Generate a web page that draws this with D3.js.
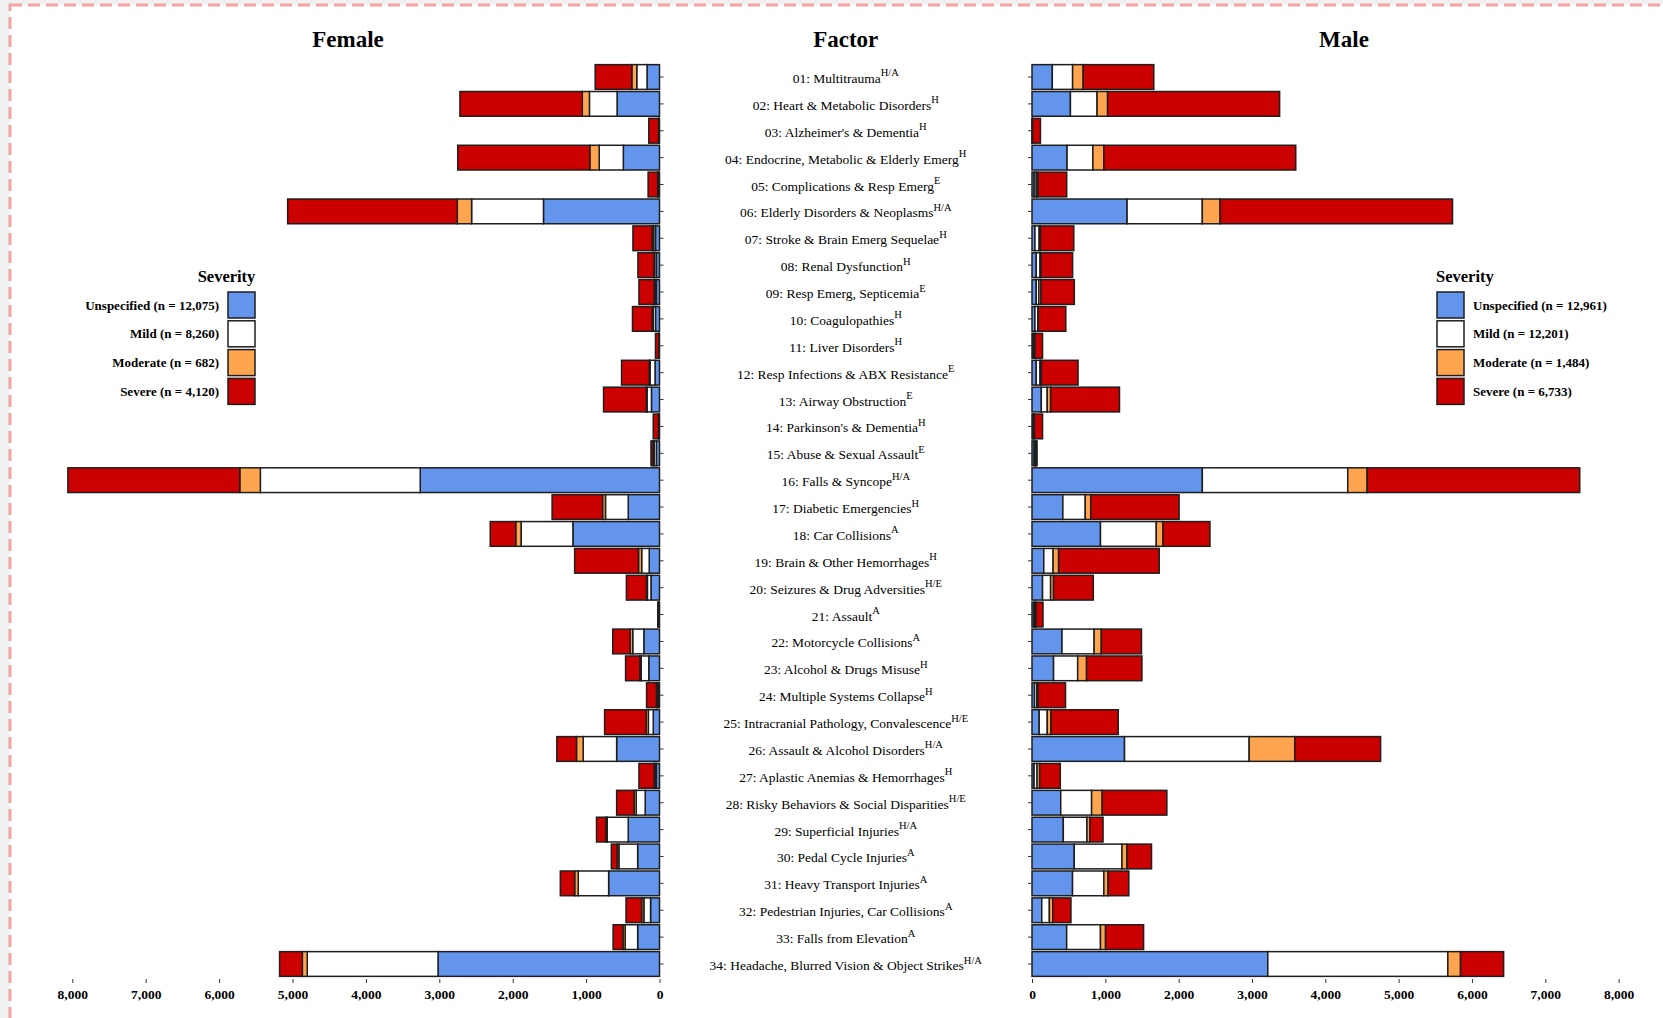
<!DOCTYPE html>
<html>
<head>
<meta charset="utf-8">
<script src="https://cdn.jsdelivr.net/npm/d3@7"></script>
<style>
  body { margin: 0; background: #f1f1f1; overflow: hidden; }
  svg text { font-family: "Liberation Serif", "Times New Roman", serif; }
</style>
</head>
<body>
<div id="chart"></div>
<script>
// factor names + superscript codes
var factors = ["01: Multitrauma", "02: Heart & Metabolic Disorders", "03: Alzheimer's & Dementia",
  "04: Endocrine, Metabolic & Elderly Emerg", "05: Complications & Resp Emerg", "06: Elderly Disorders & Neoplasms",
  "07: Stroke & Brain Emerg Sequelae", "08: Renal Dysfunction", "09: Resp Emerg, Septicemia", "10: Coagulopathies",
  "11: Liver Disorders", "12: Resp Infections & ABX Resistance", "13: Airway Obstruction", "14: Parkinson's & Dementia",
  "15: Abuse & Sexual Assault", "16: Falls & Syncope", "17: Diabetic Emergencies", "18: Car Collisions",
  "19: Brain & Other Hemorrhages", "20: Seizures & Drug Adversities", "21: Assault", "22: Motorcycle Collisions",
  "23: Alcohol & Drugs Misuse", "24: Multiple Systems Collapse", "25: Intracranial Pathology, Convalescence",
  "26: Assault & Alcohol Disorders", "27: Aplastic Anemias & Hemorrhages", "28: Risky Behaviors & Social Disparities",
  "29: Superficial Injuries", "30: Pedal Cycle Injuries", "31: Heavy Transport Injuries",
  "32: Pedestrian Injuries, Car Collisions", "33: Falls from Elevation", "34: Headache, Blurred Vision & Object Strikes"];
var supers = ["H/A","H","H","H","E","H/A","H","H","E","H","H","E","E","H","E","H/A","H","A","H","H/E","A","A","H","H",
  "H/E","H/A","H","H/E","H/A","A","A","A","A","H/A"];

var severities = ["Unspecified", "Mild", "Moderate", "Severe"];
var sevColors = ["#6495ED", "#FFFFFF", "#FFA54F", "#CD0000"];
var femaleN = ["12,075", "8,260", "682", "4,120"];
var maleN = ["12,961", "12,201", "1,484", "6,733"];

var femaleUnspecified = [170,578,5,493,10,1581,55,43,43,55,4,61,110,8,43,3260,426,1180,140,116,6,213,146,20,85,584,43,195,426,298,693,122,298,3017];
var femaleMild = [140,377,5,328,10,979,25,24,20,30,4,67,60,5,30,2178,310,706,103,49,6,152,103,15,67,456,18,122,286,255,414,91,170,1782];
var femaleModerate = [67,97,3,128,5,195,20,8,10,15,2,12,8,2,15,280,40,73,43,12,2,35,18,7,30,91,12,30,18,24,49,30,30,67];
var femaleSevere = [499,1667,133,1800,130,2311,262,219,207,268,45,377,584,70,28,2342,687,347,870,274,10,237,195,134,566,268,207,237,128,79,195,213,134,310];

var maleUnspecified = [277,524,3,478,29,1297,40,58,58,40,15,58,127,12,30,2323,421,934,161,144,25,409,294,35,98,1262,29,392,427,576,553,133,473,3216];
var maleMild = [277,363,3,352,29,1026,58,52,35,40,15,52,81,12,20,1983,305,761,127,110,20,438,329,30,110,1700,40,421,323,651,427,104,461,2455];
var maleModerate = [144,144,2,150,23,242,17,12,29,6,10,17,46,8,5,265,75,92,75,40,10,98,121,17,52,622,35,144,40,69,58,46,69,173];
var maleSevere = [963,2346,107,2617,392,3170,455,432,455,375,104,501,939,112,14,2899,1205,640,1372,542,95,548,755,375,916,1170,282,882,179,334,282,248,519,588];

var xTicks = [0,1000,2000,3000,4000,5000,6000,7000,8000];

var W = 1663, H = 1018;
var svg = d3.select("#chart").append("svg").attr("width", W).attr("height", H);

// page frame
svg.append("rect").attr("x", 10).attr("y", 5).attr("width", 1720).attr("height", 1100)
  .attr("fill", "#fff").attr("stroke", "#f5a3a3").attr("stroke-width", 3).attr("stroke-dasharray", "12,6");

var xF = d3.scaleLinear().domain([0, 8000]).range([659.5, 72.3]);
var xM = d3.scaleLinear().domain([0, 8000]).range([1032, 1618.6]);
var y = d3.scaleBand().domain(factors).range([77 - 13.44, 964 + 13.44]).paddingInner(0.08).paddingOuter(0.04);

function stackRows(u, m, mo, s) {
  return factors.map(function(f, i) {
    var vals = [u[i], m[i], mo[i], s[i]], acc = 0;
    return vals.map(function(v, k) { var seg = {f: f, k: k, x0: acc, x1: acc + v}; acc += v; return seg; });
  });
}
var femaleRows = stackRows(femaleUnspecified, femaleMild, femaleModerate, femaleSevere);
var maleRows = stackRows(maleUnspecified, maleMild, maleModerate, maleSevere);

function drawBars(rows, x) {
  var g = svg.append("g");
  g.selectAll("g.row").data(rows).enter().append("g").attr("class", "row")
    .selectAll("rect").data(function(d) { return d; }).enter().append("rect")
    .attr("x", function(d) { return Math.min(x(d.x0), x(d.x1)); })
    .attr("width", function(d) { return Math.abs(x(d.x1) - x(d.x0)); })
    .attr("y", function(d) { return y(d.f); })
    .attr("height", y.bandwidth())
    .attr("fill", function(d) { return sevColors[d.k]; })
    .attr("stroke", "#1e1e1e").attr("stroke-width", 1.5);
}
drawBars(femaleRows, xF);
drawBars(maleRows, xM);

// bottom axes
function bottomAxis(x) {
  var ax = svg.append("g").attr("transform", "translate(0,979)")
    .call(d3.axisBottom(x).tickValues(xTicks).tickFormat(d3.format(",")).tickSize(4).tickPadding(6));
  ax.select(".domain").remove();
  ax.selectAll("line").attr("stroke", "#333");
  ax.selectAll("text").attr("font-size", "13.5px").attr("font-weight", "bold").attr("fill", "#000")
    .style("font-family", "'Liberation Serif', serif");
}
bottomAxis(xF);
bottomAxis(xM);

// small category ticks
var tf = svg.append("g").attr("transform", "translate(659.5,0)")
  .call(d3.axisRight(y).tickSize(4).tickFormat(""));
tf.select(".domain").remove();
tf.selectAll("line").attr("stroke", "#333");
var tm = svg.append("g").attr("transform", "translate(1032,0)")
  .call(d3.axisLeft(y).tickSize(4).tickFormat(""));
tm.select(".domain").remove();
tm.selectAll("line").attr("stroke", "#333");

// factor labels
var lab = svg.append("g").selectAll("text").data(factors).enter().append("text")
  .attr("x", 845.75)
  .attr("y", function(d) { return y(d) + y.bandwidth() / 2 + 6; })
  .attr("text-anchor", "middle").attr("font-size", "13.5px").attr("fill", "#000");
lab.append("tspan").text(function(d) { return d; });
lab.append("tspan").attr("dy", -6.5).attr("font-size", "10.5px").text(function(d, i) { return supers[i]; });

// panel titles
[["Female", 348], ["Factor", 845.75], ["Male", 1344]].forEach(function(t) {
  svg.append("text").attr("x", t[1]).attr("y", 47).attr("text-anchor", "middle")
    .attr("font-size", "23px").attr("font-weight", "bold").text(t[0]);
});

// legends
function legend(sx, textX, anchor, titleX, titleAnchor, ns) {
  var g = svg.append("g");
  g.append("text").attr("x", titleX).attr("y", 282).attr("text-anchor", titleAnchor)
    .attr("font-size", "16.5px").attr("font-weight", "bold").text("Severity");
  severities.forEach(function(s, i) {
    var yy = 292 + i * 28.8;
    g.append("rect").attr("x", sx).attr("y", yy).attr("width", 27).attr("height", 26)
      .attr("fill", sevColors[i]).attr("stroke", "#1e1e1e").attr("stroke-width", 1.5);
    g.append("text").attr("x", textX).attr("y", yy + 17.5).attr("text-anchor", anchor)
      .attr("font-size", "13px").attr("font-weight", "bold").text(s + " (n = " + ns[i] + ")");
  });
}
legend(228, 219, "end", 226.5, "middle", femaleN);
legend(1437, 1473, "start", 1436, "start", maleN);
</script>
</body>
</html>
